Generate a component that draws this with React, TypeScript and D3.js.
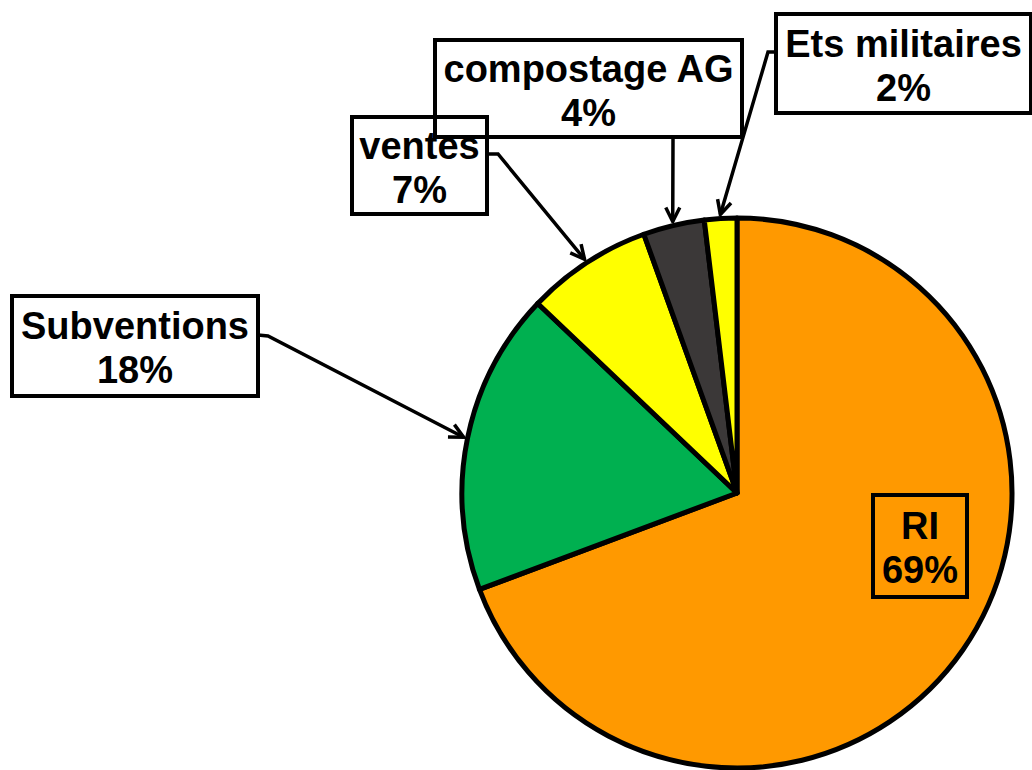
import { useRef, useEffect } from 'react';
import * as d3 from 'd3';

const categories = ['RI', 'Subventions', 'ventes', 'compostage AG', 'Ets militaires'];
const shares = [69.3, 17.8, 7.4, 3.6, 1.9];
const colors = ['#FF9900', '#00B050', '#FFFF00', '#3B3838', '#FFFF00'];

// label boxes: [x, y, w, h], leader anchor and elbow (none = label inside slice)
const boxes: Record<string, { rect: [number, number, number, number]; anchor?: [number, number]; elbow?: [number, number] }> = {
	RI: { rect: [873, 495, 94, 102] },
	Subventions: { rect: [12, 296, 246, 100], anchor: [258, 335], elbow: [268, 336] },
	ventes: { rect: [352, 117, 135, 97], anchor: [487, 154], elbow: [498, 154] },
	'compostage AG': { rect: [435, 40, 307, 97], anchor: [673, 137], elbow: [673, 140] },
	'Ets militaires': { rect: [776, 14, 255, 99], anchor: [776, 52], elbow: [768, 52] },
};

const W = 1032;
const H = 770;
const CX = 737;
const CY = 493;
const R = 275;
const FONT = 38;

export default function App() {
	const svgRef = useRef<SVGSVGElement>(null);

	useEffect(() => {
		const svg = d3.select(svgRef.current);
		svg.selectAll('*').remove();
		svg.attr('width', W).attr('height', H);

		const defs = svg.append('defs');
		defs.append('marker')
			.attr('id', 'arrow')
			.attr('markerUnits', 'userSpaceOnUse')
			.attr('viewBox', '-18 -10 20 20')
			.attr('markerWidth', 20)
			.attr('markerHeight', 20)
			.attr('refX', 0)
			.attr('refY', 0)
			.attr('orient', 'auto')
			.append('path')
			.attr('d', 'M-14,-7L0,0L-14,7')
			.attr('fill', 'none')
			.attr('stroke', '#000')
			.attr('stroke-width', 3.5);

		const data = categories.map((c, i) => ({ name: c, value: shares[i], color: colors[i] }));
		const pie = d3.pie<any>().value((d) => d.value).sort(null);
		const arcs = pie(data);
		const arc = d3.arc<any>().innerRadius(0).outerRadius(R);

		const g = svg.append('g').attr('transform', `translate(${CX},${CY})`);
		g.selectAll('path.slice')
			.data(arcs)
			.join('path')
			.attr('class', 'slice')
			.attr('d', arc)
			.attr('fill', (d) => d.data.color)
			.attr('stroke', '#000')
			.attr('stroke-width', 5)
			.attr('stroke-linejoin', 'round');

		// leader lines
		arcs.forEach((a) => {
			const b = boxes[a.data.name];
			if (!b.anchor || !b.elbow) return;
			const mid = (a.startAngle + a.endAngle) / 2;
			const tip: [number, number] = [CX + Math.sin(mid) * (R + 4), CY - Math.cos(mid) * (R + 4)];
			svg.append('path')
				.attr('d', d3.line()([b.anchor, b.elbow, tip]))
				.attr('fill', 'none')
				.attr('stroke', '#000')
				.attr('stroke-width', 3.5)
				.attr('marker-end', 'url(#arrow)');
		});

		// boxes: fills first, then borders so overlapping edges stay visible
		arcs.forEach((a) => {
			const [x, y, w, h] = boxes[a.data.name].rect;
			svg.append('rect')
				.attr('x', x).attr('y', y).attr('width', w).attr('height', h)
				.attr('fill', a.data.name === 'RI' ? 'none' : '#fff');
		});
		arcs.forEach((a) => {
			const [x, y, w, h] = boxes[a.data.name].rect;
			svg.append('rect')
				.attr('x', x).attr('y', y).attr('width', w).attr('height', h)
				.attr('fill', 'none')
				.attr('stroke', '#000')
				.attr('stroke-width', 4);
		});

		arcs.forEach((a) => {
			const [x, y, w, h] = boxes[a.data.name].rect;
			const t = svg.append('text')
				.attr('text-anchor', 'middle')
				.attr('font-family', '"Liberation Sans", Arial, sans-serif')
				.attr('font-weight', 'bold')
				.attr('font-size', FONT)
				.attr('fill', '#000');
			const cx = x + w / 2;
			const cy = y + h / 2;
			t.append('tspan').attr('x', cx).attr('y', cy - 7).text(a.data.name);
			t.append('tspan').attr('x', cx).attr('y', cy + 37).text(`${Math.round(a.data.value)}%`);
		});
	}, []);

	return (
		<svg
			ref={svgRef}
			style={{ position: 'absolute', left: 0, top: 0, display: 'block', background: '#fff' }}
		/>
	);
}
